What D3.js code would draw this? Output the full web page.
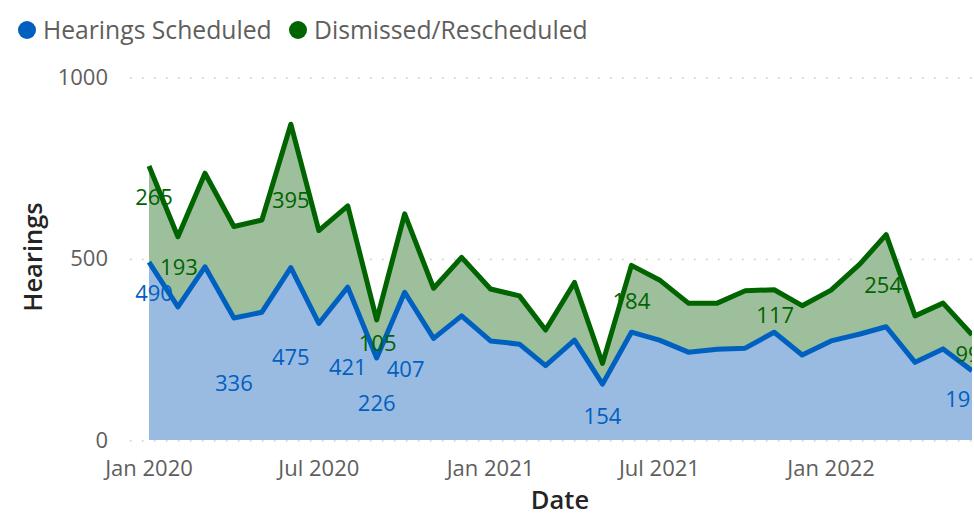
<!DOCTYPE html>
<html>
<head>
<meta charset="utf-8">
<script src="https://cdn.jsdelivr.net/npm/d3@7"></script>
<style>
  html, body { margin: 0; padding: 0; background: #fff; }
  svg { display: block; font-family: "Segoe UI", "Open Sans", sans-serif; }
</style>
</head>
<body>
<svg id="chart" width="974" height="521"></svg>
<script>
// ---- data ----
const months = ["2020-01","2020-02","2020-03","2020-04","2020-05","2020-06","2020-07","2020-08","2020-09","2020-10","2020-11","2020-12",
                "2021-01","2021-02","2021-03","2021-04","2021-05","2021-06","2021-07","2021-08","2021-09","2021-10","2021-11","2021-12",
                "2022-01","2022-02","2022-03","2022-04","2022-05","2022-06"];
const hearingsScheduled = [490,367,477,336,352,475,321,421,226,407,280,342,273,264,205,275,154,297,275,242,250,253,297,234,273,292,312,214,251,191];
const dismissedRescheduled = [265,193,258,252,254,395,256,224,105,216,138,161,143,133,98,159,57,184,166,135,127,158,117,136,140,193,254,128,126,99];
const seriesNames = ["Hearings Scheduled","Dismissed/Rescheduled"];
const yTicks = [0, 500, 1000];
const xTickLabels = ["Jan 2020","Jul 2020","Jan 2021","Jul 2021","Jan 2022"];
const xTickDates = ["2020-01","2020-07","2021-01","2021-07","2022-01"];

// ---- layout / style (not data) ----
const colors = ["#0060C0", "#006400"];
const fills = ["#99BBE2", "#9DBF9B"];
// which points carry a data label, with pixel offsets from the point
const labelPlacement = [
  {s:0,i:0,dx:5,dy:31},{s:0,i:3,dx:0,dy:65},{s:0,i:5,dx:0,dy:90},{s:0,i:7,dx:0,dy:80},
  {s:0,i:8,dx:0,dy:45},{s:0,i:9,dx:1,dy:77},{s:0,i:16,dx:0,dy:32},{s:0,i:29,dx:-8,dy:29},
  {s:1,i:0,dx:5,dy:31},{s:1,i:1,dx:1,dy:31},{s:1,i:5,dx:0,dy:76},{s:1,i:8,dx:1,dy:23},
  {s:1,i:17,dx:0,dy:36},{s:1,i:22,dx:1,dy:26},{s:1,i:26,dx:-3,dy:51},{s:1,i:29,dx:-4,dy:20}
];

const parse = d3.timeParse("%Y-%m");
const dates = months.map(parse);
const rows = dates.map((d, i) => ({date: d, a: hearingsScheduled[i], b: dismissedRescheduled[i]}));
const stack = d3.stack().keys(["a","b"])(rows);

const svg = d3.select("#chart");
const x = d3.scaleTime().domain([dates[0], dates[dates.length-1]]).range([149, 972]);
const y = d3.scaleLinear().domain([0, 1000]).range([440, 77]);

// gridlines (dotted)
svg.append("g").selectAll("line").data(yTicks).join("line")
  .attr("x1", 130).attr("x2", 974)
  .attr("y1", d => y(d) + 1).attr("y2", d => y(d) + 1)
  .attr("stroke", "#C8C6C4").attr("stroke-width", 1.5)
  .attr("stroke-dasharray", "1.5,10.5").attr("stroke-linecap", "butt");

// y tick labels
svg.append("g").selectAll("text").data(yTicks).join("text")
  .attr("x", 108).attr("y", d => y(d)).attr("dy", "0.35em")
  .attr("text-anchor", "end").attr("font-size", 22).attr("fill", "#605E5C")
  .text(d => d);

// x tick labels
svg.append("g").selectAll("text").data(xTickDates).join("text")
  .attr("x", d => x(parse(d))).attr("y", 468).attr("dy", "0.35em")
  .attr("text-anchor", "middle").attr("font-size", 22).attr("fill", "#605E5C")
  .text((d, i) => xTickLabels[i]);

// axis titles
svg.append("text").attr("x", 560).attr("y", 500).attr("dy", "0.35em")
  .attr("text-anchor", "middle").attr("font-size", 25.5).attr("font-weight", 600)
  .attr("fill", "#252423").text("Date");
svg.append("text").attr("transform", "translate(33,257) rotate(-90)").attr("dy", "0.35em")
  .attr("text-anchor", "middle").attr("font-size", 25.5).attr("font-weight", 600)
  .attr("fill", "#252423").text("Hearings");

// clip
svg.append("defs").append("clipPath").attr("id", "plotclip")
  .append("rect").attr("x", 0).attr("y", 60).attr("width", 972).attr("height", 400);
const plot = svg.append("g").attr("clip-path", "url(#plotclip)");

const area = d3.area().x(d => x(d.data.date)).y0(d => y(d[0])).y1(d => y(d[1]));
plot.selectAll("path.area").data(stack).join("path")
  .attr("class", "area").attr("d", area).attr("fill", (d, i) => fills[i]);

const line = d3.line().x(d => x(d.data.date)).y(d => y(d[1]));
[1, 0].forEach(k => {
  plot.append("path").datum(stack[k]).attr("d", line)
    .attr("fill", "none").attr("stroke", colors[k]).attr("stroke-width", 5)
    .attr("stroke-linejoin", "round");
});

// data labels
const seriesVals = [hearingsScheduled, dismissedRescheduled];
plot.append("g").selectAll("text").data(labelPlacement).join("text")
  .attr("x", d => x(dates[d.i]) + d.dx)
  .attr("y", d => y(stack[d.s][d.i][1]) + d.dy)
  .attr("dy", "0.35em").attr("text-anchor", "middle")
  .attr("font-size", 22).attr("fill", d => colors[d.s])
  .text(d => seriesVals[d.s][d.i]);

// legend
const legX = [27, 298], legTx = [43, 314];
seriesNames.forEach((n, i) => {
  svg.append("circle").attr("cx", legX[i]).attr("cy", 30).attr("r", 9).attr("fill", colors[i]);
  svg.append("text").attr("x", legTx[i]).attr("y", 30).attr("dy", "0.35em")
    .attr("font-size", 24.7).attr("fill", "#605E5C").text(n);
});
</script>
</body>
</html>
